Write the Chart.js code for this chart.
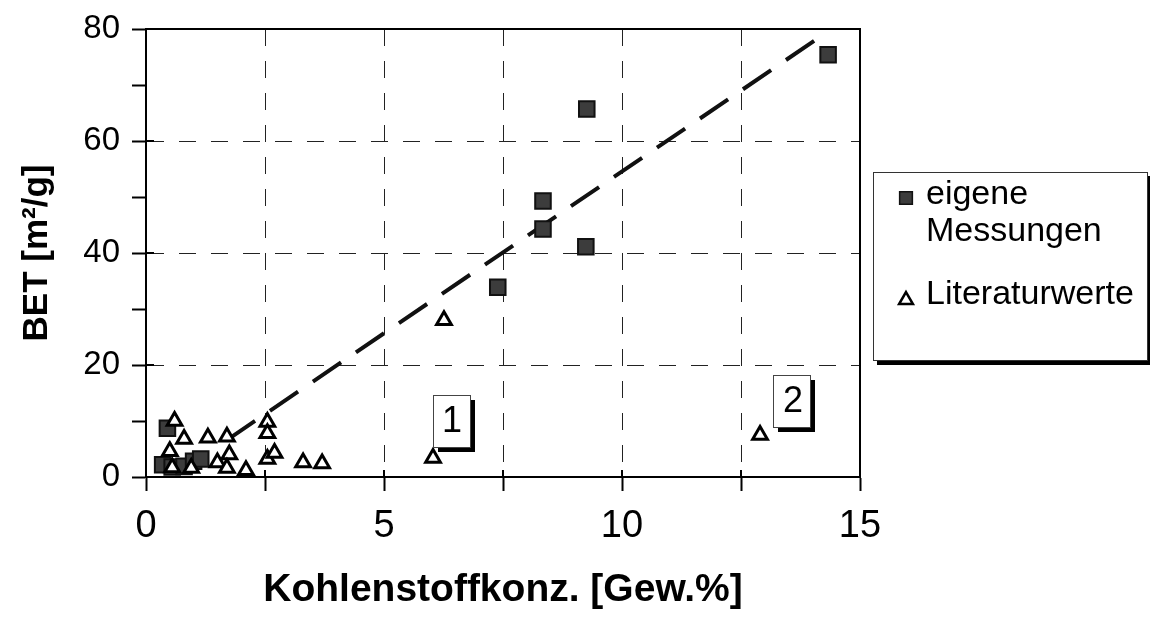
<!DOCTYPE html>
<html>
<head>
<meta charset="utf-8">
<script src="https://cdn.jsdelivr.net/npm/chart.js@4/dist/chart.umd.min.js"></script>
<style>
  html, body { margin: 0; background: #fff; }
  canvas { display: block; }
</style>
</head>
<body>
<canvas id="c" width="1150" height="617"></canvas>
<script>
// BET-Oberfläche gegen Kohlenstoffgehalt: eigene Messungen, Literaturwerte, Trendgerade.
const FONT = '"Liberation Sans", Arial, sans-serif';

const eigeneX = [14.33, 9.26, 8.34, 8.34, 9.24, 7.39, 0.45, 0.35, 0.55, 0.8, 1.0, 1.15];
const eigeneY = [75.4, 65.7, 49.3, 44.3, 41.1, 33.9, 8.7, 2.2, 1.8, 1.9, 2.8, 3.2];

const literaturX = [0.6, 0.8, 1.3, 1.7, 0.5, 1.5, 1.75, 1.7, 2.1, 2.55, 2.55, 2.55, 2.7, 3.3, 3.7,
                    6.03, 6.26, 12.9, 0.55, 0.95];
const literaturY = [10, 6.8, 7, 7.2, 4.6, 2.6, 4.0, 1.6, 1.2, 9.8, 7.8, 3.2, 4.3, 2.6, 2.4,
                    3.4, 28, 7.5, 1.7, 1.6];

const trendX = [1.7, 14.3];
const trendY = [6.6, 79.4];

const xTicks = [0, 5, 10, 15];
const yTicks = [0, 20, 40, 60, 80];

const seriesLabels = ['eigene Messungen', 'Literaturwerte'];
const legendLines = [['eigene', 'Messungen'], ['Literaturwerte']];

// nummerierte Kästchen im Diagramm (Mittelpunkt in Achsenwerten)
const notes = [{ text: '1', x: 6.41, y: 10 }, { text: '2', x: 13.57, y: 13.6 }];

const pts = (xs, ys) => xs.map((x, i) => ({ x, y: ys[i] }));

const squareStyle = { pointStyle: 'rect', radius: 11, backgroundColor: '#3c3c3c', borderColor: '#111', borderWidth: 2 };
const triStyle = { pointStyle: 'triangle', radius: 8.5, backgroundColor: '#fff', borderColor: '#000', borderWidth: 3 };

const extras = {
  id: 'extras',
  afterDatasetsDraw(chart) {
    const { ctx, chartArea: a, scales: { x, y } } = chart;
    ctx.save();
    // Rahmen oben/rechts
    ctx.strokeStyle = '#000';
    ctx.lineWidth = 2;
    ctx.beginPath();
    ctx.moveTo(a.left, a.top); ctx.lineTo(a.right, a.top); ctx.lineTo(a.right, a.bottom);
    ctx.stroke();
    // Teilstriche nach innen
    x.ticks.forEach(t => {
      const px = x.getPixelForValue(t.value);
      ctx.beginPath(); ctx.moveTo(px, a.bottom); ctx.lineTo(px, a.bottom - 7); ctx.stroke();
    });
    y.ticks.forEach(t => {
      if (!yTicks.includes(t.value)) return;
      const py = y.getPixelForValue(t.value);
      ctx.beginPath(); ctx.moveTo(a.left, py); ctx.lineTo(a.left + 8, py); ctx.stroke();
    });

    // Kästchen 1 und 2 mit Schatten
    ctx.font = '36px ' + FONT;
    ctx.textAlign = 'center';
    ctx.textBaseline = 'middle';
    notes.forEach(n => {
      const cx = x.getPixelForValue(n.x), cy = y.getPixelForValue(n.y);
      const w = 37, h = 52, l = Math.round(cx - w / 2), t = Math.round(cy - h / 2);
      ctx.fillStyle = '#000';
      ctx.fillRect(l + 5, t + 5, w, h);
      ctx.fillStyle = '#fff';
      ctx.fillRect(l, t, w, h);
      ctx.lineWidth = 1;
      ctx.strokeStyle = '#444';
      ctx.strokeRect(l + 0.5, t + 0.5, w, h);
      ctx.fillStyle = '#000';
      ctx.fillText(n.text, cx + 1, cy + 1);
    });

    // Legende rechts
    const lx = 873, ly = 172, lw = 274, lh = 188;
    ctx.fillStyle = '#000';
    ctx.fillRect(lx + 4, ly + lh, lw, 5);
    ctx.fillRect(lx + lw, ly + 4, 4, lh);
    ctx.fillStyle = '#fff';
    ctx.fillRect(lx, ly, lw, lh);
    ctx.lineWidth = 1;
    ctx.strokeStyle = '#333';
    ctx.strokeRect(lx + 0.5, ly + 0.5, lw, lh);

    ctx.textAlign = 'left';
    ctx.textBaseline = 'alphabetic';
    ctx.font = '34px ' + FONT;
    const rows = [
      { style: squareStyle, r: 9, bw: 1.5, my: 198, base: 204, lines: legendLines[0] },
      { style: triStyle, r: 8, bw: 2.5, my: 300, base: 304, lines: legendLines[1] },
    ];
    rows.forEach(row => {
      const st = Object.assign({}, row.style, { radius: row.r, borderWidth: row.bw });
      ctx.fillStyle = st.backgroundColor; ctx.strokeStyle = st.borderColor; ctx.lineWidth = st.borderWidth;
      Chart.helpers.drawPoint(ctx, st, 906, row.my);
      ctx.fillStyle = '#000';
      row.lines.forEach((s, i) => ctx.fillText(s, 926, row.base + i * 37));
    });
    ctx.restore();
  }
};

new Chart(document.getElementById('c'), {
  data: {
    datasets: [
      { type: 'line', label: 'Trend', data: pts(trendX, trendY), borderColor: '#111', borderWidth: 4,
        borderDash: [34, 18], pointRadius: 0, fill: false, order: 3 },
      { type: 'scatter', label: seriesLabels[0], data: pts(eigeneX, eigeneY), order: 2,
        pointStyle: squareStyle.pointStyle, pointRadius: squareStyle.radius,
        backgroundColor: squareStyle.backgroundColor, borderColor: squareStyle.borderColor,
        borderWidth: squareStyle.borderWidth },
      { type: 'scatter', label: seriesLabels[1], data: pts(literaturX, literaturY), order: 1,
        pointStyle: triStyle.pointStyle, pointRadius: triStyle.radius,
        backgroundColor: triStyle.backgroundColor, borderColor: triStyle.borderColor,
        borderWidth: triStyle.borderWidth },
    ],
  },
  options: {
    responsive: false,
    animation: false,
    devicePixelRatio: 1,
    layout: { padding: { left: 0, right: 290, top: 29, bottom: 0 } },
    plugins: { legend: { display: false }, tooltip: { enabled: false } },
    scales: {
      x: {
        type: 'linear', min: 0, max: 15,
        afterFit: s => { s.height = 140; s.paddingLeft = 0; s.paddingRight = 0; },
        ticks: { stepSize: 2.5, autoSkip: false, maxRotation: 0, padding: 13, color: '#000',
                 font: { family: FONT, size: 38 },
                 callback: v => xTicks.includes(v) ? String(v) : '' },
        grid: { color: '#222', lineWidth: 1, tickLength: 14, tickColor: '#000', tickWidth: 2 },
        border: { display: true, color: '#000', width: 2, dash: [17, 15] },
        title: { display: true, text: 'Kohlenstoffkonz. [Gew.%]', color: '#000',
                 font: { family: FONT, size: 39, weight: 'bold' }, padding: { top: 0, bottom: 3 } },
      },
      y: {
        type: 'linear', min: 0, max: 80,
        afterFit: s => { s.width = 146; s.paddingTop = 0; s.paddingBottom = 0; },
        ticks: { stepSize: 10, autoSkip: false, padding: 12, color: '#000',
                 font: { family: FONT, size: 33 },
                 callback: v => yTicks.includes(v) ? String(v) : '' },
        grid: { color: c => (c.tick && yTicks.includes(c.tick.value)) ? '#222' : 'rgba(0,0,0,0)',
                lineWidth: 1, tickLength: 14, tickColor: '#000', tickWidth: 2 },
        border: { display: true, color: '#000', width: 2, dash: [17, 15] },
        title: { display: true, text: 'BET [m²/g]', color: '#000',
                 font: { family: FONT, size: 35, weight: 'bold' }, padding: { top: 16, bottom: 0 } },
      },
    },
  },
  plugins: [extras],
});
</script>
</body>
</html>
